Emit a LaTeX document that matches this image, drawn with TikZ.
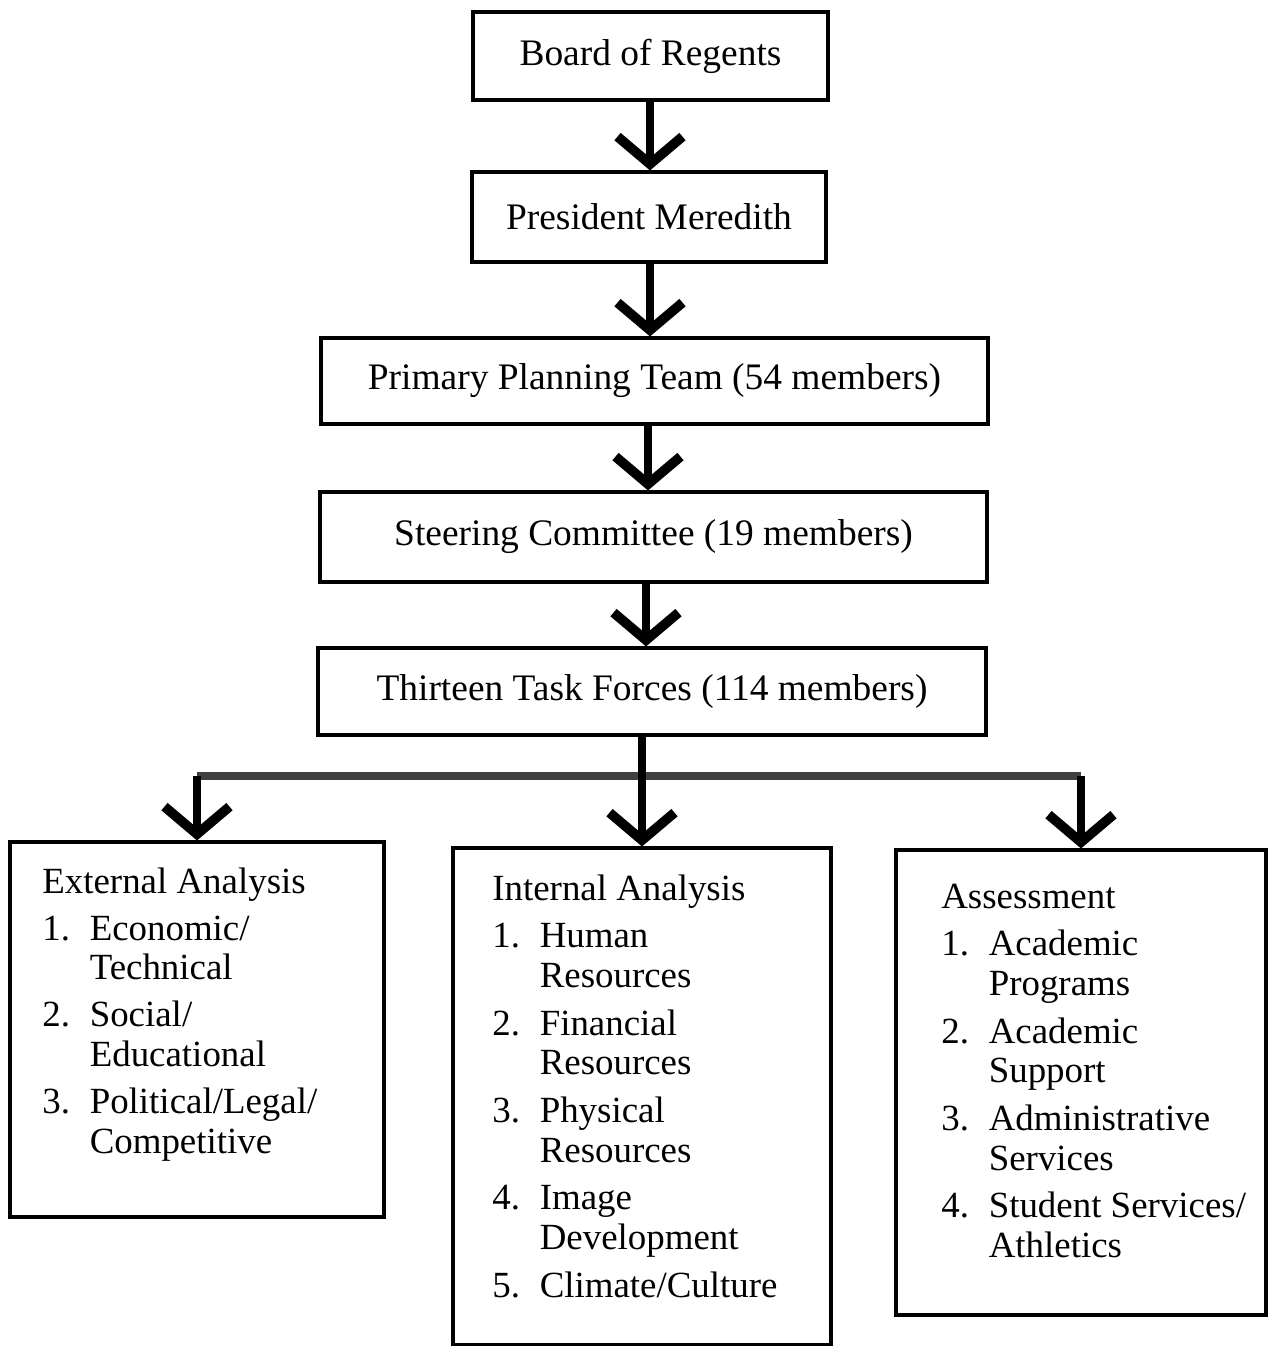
\documentclass[tikz,border=0pt]{standalone}
\usepackage{fontspec}
\setmainfont{Liberation Serif}
\usetikzlibrary{arrows.meta}

\begin{document}
\begin{tikzpicture}[x=0.02cm, y=-0.02cm,
  box/.style={draw, line width=1.8pt, inner sep=0pt, font=\fontsize{21.3}{22.7}\selectfont},
  listtext/.style={anchor=north west, inner sep=0pt, font=\fontsize{21}{22.7}\selectfont},
  flow/.style={line width=4pt, -{Straight Barb[length=0.55cm, width=1.3cm, line width=5.5pt]}},
  trunk/.style={line width=4.5pt, black!75}]
  \useasboundingbox (0,0) rectangle (1270,1346);

  % chain of command
  \node[box, minimum width=7.1cm, minimum height=1.76cm] (regents) at (650.5,56) {Board of Regents};
  \node[box, minimum width=7.08cm, minimum height=1.8cm] (president) at (649,217) {President Meredith};
  \node[box, minimum width=13.34cm, minimum height=1.72cm] (primary) at (654.5,381) {Primary Planning Team (54 members)};
  \node[box, minimum width=13.34cm, minimum height=1.8cm] (steering) at (653.5,537) {Steering Committee (19 members)};
  \node[box, minimum width=13.36cm, minimum height=1.74cm] (task) at (652,691.5) {Thirteen Task Forces (114 members)};

  \draw[flow] (regents.south -| 650,0) -- (president.north -| 650,0);
  \draw[flow] (president.south -| 650,0) -- (primary.north -| 650,0);
  \draw[flow] (primary.south -| 648,0) -- (steering.north -| 648,0);
  \draw[flow] (steering.south -| 646,0) -- (task.north -| 646,0);

  % the three analysis groups
  \node[box, minimum width=7.48cm, minimum height=7.5cm] (ext) at (197,1029.5) {};
  \node[box, minimum width=7.56cm, minimum height=9.94cm] (intl) at (642,1096.5) {};
  \node[box, minimum width=7.4cm, minimum height=9.3cm] (asmt) at (1081,1082.5) {};

  \node[listtext] (extT) at (42,865) {\begin{tabular}{@{}p{27pt}@{}l@{}}
    \multicolumn{2}{@{}l@{}}{External Analysis}\\[3.9pt]
    1. & Economic/\\ & Technical\\[3.9pt]
    2. & Social/\\ & Educational\\[3.9pt]
    3. & Political/Legal/\\ & Competitive
  \end{tabular}};
  \node[listtext] (intlT) at (492,872) {\begin{tabular}{@{}p{27pt}@{}l@{}}
    \multicolumn{2}{@{}l@{}}{Internal Analysis}\\[4.3pt]
    1. & Human\\ & Resources\\[4.3pt]
    2. & Financial\\ & Resources\\[4.3pt]
    3. & Physical\\ & Resources\\[4.3pt]
    4. & Image\\ & Development\\[4.3pt]
    5. & Climate/Culture
  \end{tabular}};
  \node[listtext] (asmtT) at (941,880) {\begin{tabular}{@{}p{27pt}@{}l@{}}
    \multicolumn{2}{@{}l@{}}{Assessment}\\[4.3pt]
    1. & Academic\\ & Programs\\[4.3pt]
    2. & Academic\\ & Support\\[4.3pt]
    3. & Administrative\\ & Services\\[4.3pt]
    4. & Student Services/\\ & Athletics
  \end{tabular}};

  % branching
  \coordinate (split) at (intl.north |- 0,776);
  \draw[trunk] (ext.north |- split) -- (asmt.north |- split);
  \draw[flow] (intl.north |- task.south) -- (intl.north);
  \draw[flow] (ext.north |- split) -- (ext.north);
  \draw[flow] (asmt.north |- split) -- (asmt.north);
\end{tikzpicture}
\end{document}
